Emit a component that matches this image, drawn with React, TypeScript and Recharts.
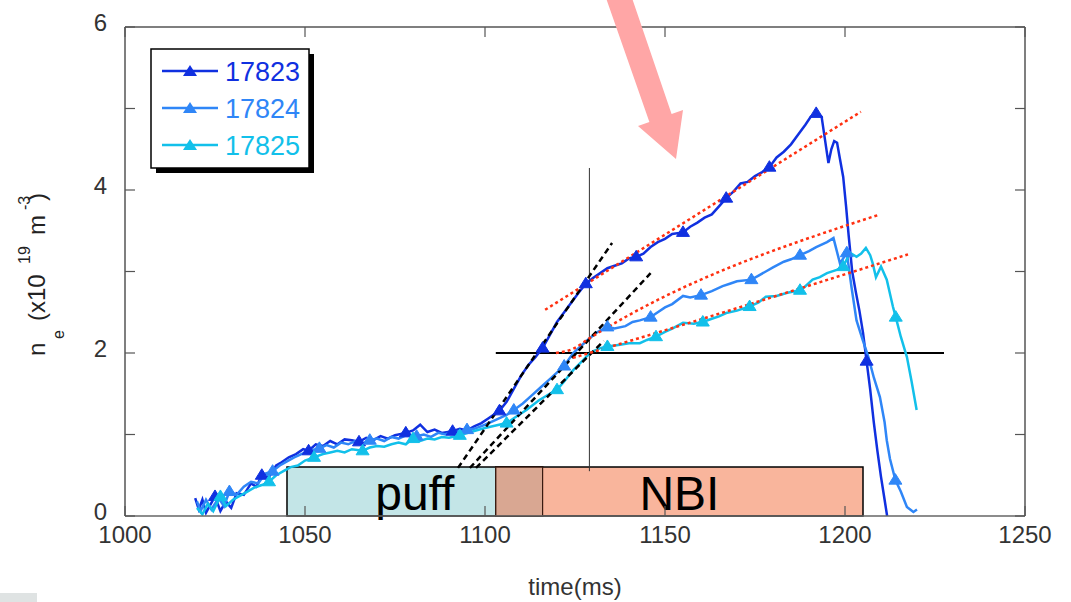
import React from 'react';
import { LineChart, Line, XAxis, YAxis, ReferenceArea, ReferenceLine } from 'recharts';

const xTicks = [1000, 1050, 1100, 1150, 1200, 1250];
const yTicks = [0, 1, 2, 3, 4, 5, 6];
const yLabeled = [0, 2, 4, 6];

const shotNames = ['17823', '17824', '17825'];
const shotColors = ['#1030e0', '#2f86f7', '#12c0ea'];

const s17823: [number, number][] = [
  [1019.5,0.22],[1020.5,0.08],[1021.5,0.2],[1022.5,0.04],[1024,0.16],[1025,0.24],[1026.5,0.06],[1028,0.18],[1029.5,0.1],[1031,0.28],[1033,0.26],[1035,0.4],[1036.5,0.36],[1038,0.5],[1040,0.48],[1042,0.62],[1043.5,0.66],[1045.5,0.72],[1047.5,0.76],[1049.5,0.82],[1051,0.8],[1053,0.88],[1055,0.86],[1057,0.92],[1059,0.88],[1061,0.94],[1063,0.93],[1065,0.91],[1067,0.96],[1069,0.93],[1071,0.98],[1073,0.95],[1075,0.99],[1078,1.02],[1080,1.05],[1082,1.12],[1084,1.03],[1086,1.06],[1088,1.02],[1091,1.04],[1093,1.07],[1095,1.05],[1097,1.1],[1099,1.14],[1101,1.2],[1104,1.29],[1106,1.4],[1108,1.56],[1110,1.72],[1112,1.85],[1114,1.95],[1116,2.06],[1118,2.22],[1120,2.38],[1122,2.5],[1124,2.62],[1126,2.74],[1128,2.85],[1130,2.92],[1132,2.98],[1134,3.04],[1136,3.07],[1138,3.1],[1140,3.16],[1142,3.18],[1144,3.22],[1146,3.3],[1148,3.36],[1150,3.4],[1152,3.46],[1155,3.48],[1157,3.55],[1159,3.6],[1161,3.66],[1163,3.7],[1165,3.8],[1167,3.9],[1169,3.98],[1171,4.08],[1173,4.1],[1175,4.17],[1177,4.22],[1179,4.28],[1181,4.4],[1183,4.47],[1185,4.56],[1187,4.68],[1189,4.8],[1190.5,4.9],[1192,4.94],[1193.5,4.9],[1194.5,4.6],[1195.4,4.33],[1196.2,4.5],[1197,4.6],[1197.8,4.58],[1198.6,4.38],[1199.5,4.16],[1200.3,3.8],[1201,3.45],[1202,3.0],[1203,2.75],[1204,2.52],[1205,2.25],[1206,1.9],[1207,1.55],[1208,1.15],[1209,0.8],[1210,0.48],[1211,0.2],[1211.7,0.0]
];
const m17823 = [1025, 1038, 1051, 1065, 1078, 1091, 1104, 1116, 1128, 1142, 1155, 1167, 1179, 1192, 1206];

const s17824: [number, number][] = [
  [1020,0.18],[1021,0.06],[1022.5,0.2],[1024,0.08],[1026,0.22],[1027.5,0.12],[1029,0.3],[1031,0.26],[1033,0.36],[1035,0.42],[1037,0.4],[1039,0.52],[1041,0.55],[1043,0.62],[1045,0.67],[1047,0.72],[1049,0.76],[1051,0.8],[1054,0.83],[1056,0.87],[1058,0.84],[1060,0.9],[1062,0.88],[1064,0.92],[1066,0.89],[1068,0.93],[1070,0.95],[1072,0.92],[1074,0.97],[1076,0.95],[1078,0.99],[1081,0.98],[1083,1.0],[1085,0.97],[1087,1.02],[1089,1.0],[1091,1.04],[1093,1.03],[1095,1.06],[1097,1.07],[1100,1.12],[1103,1.18],[1106,1.24],[1108,1.3],[1110.5,1.38],[1113,1.48],[1115.5,1.58],[1118,1.68],[1122,1.84],[1124.5,2.0],[1126.5,2.08],[1128.5,2.16],[1131,2.25],[1134,2.32],[1136,2.3],[1139,2.33],[1141,2.38],[1143,2.4],[1146,2.44],[1148,2.5],[1150,2.56],[1152,2.6],[1155,2.7],[1157,2.68],[1160,2.71],[1163,2.76],[1166,2.82],[1168,2.85],[1170,2.88],[1174,2.9],[1176,2.95],[1178,3.0],[1180,3.05],[1183,3.12],[1185,3.15],[1187.5,3.2],[1190,3.25],[1192,3.3],[1195,3.36],[1196.8,3.41],[1198.6,3.1],[1200.5,3.23],[1201.8,2.81],[1203.2,2.4],[1205,2.15],[1206.5,1.95],[1208,1.7],[1209.7,1.46],[1211,1.15],[1211.6,0.93],[1212.5,0.7],[1214,0.44],[1215.5,0.3],[1217.2,0.11],[1219,0.05],[1220,0.08]
];
const m17824 = [1029, 1041, 1054, 1068, 1081, 1095, 1108, 1122, 1134, 1146, 1160, 1174, 1187.5, 1200.5, 1214];

const s17825: [number, number][] = [
  [1020,0.1],[1021.5,0.02],[1023,0.15],[1024.5,0.06],[1026.5,0.24],[1028,0.12],[1030,0.2],[1032,0.25],[1034,0.3],[1036,0.35],[1038,0.38],[1040,0.42],[1042,0.5],[1044,0.55],[1046,0.6],[1048,0.62],[1050,0.68],[1052.5,0.72],[1055,0.76],[1057,0.78],[1059,0.8],[1061,0.78],[1063,0.82],[1066,0.8],[1068,0.84],[1070,0.86],[1072,0.85],[1074,0.88],[1076,0.9],[1078,0.88],[1080,0.95],[1082,0.92],[1084,0.95],[1086,0.94],[1088,0.97],[1090,0.96],[1093,0.99],[1096,1.03],[1100,1.08],[1103,1.11],[1106,1.14],[1108,1.2],[1111.5,1.3],[1115,1.42],[1118,1.5],[1120,1.55],[1122,1.65],[1124.5,1.79],[1126.5,1.88],[1128.5,1.97],[1130,2.02],[1132,2.06],[1134,2.08],[1137.5,2.1],[1140,2.12],[1143,2.12],[1145,2.16],[1147.5,2.2],[1150,2.26],[1152,2.3],[1155,2.37],[1158,2.36],[1160.5,2.38],[1163,2.42],[1165,2.45],[1167,2.49],[1170,2.52],[1173.5,2.57],[1176,2.62],[1178,2.69],[1181,2.7],[1184,2.74],[1187.5,2.77],[1189,2.82],[1191,2.9],[1193,2.93],[1195,2.98],[1197.7,3.02],[1199.5,3.06],[1201.4,3.23],[1203.2,3.18],[1204.5,3.22],[1205.8,3.29],[1207,3.2],[1207.7,3.1],[1208.6,2.93],[1210,3.06],[1211.6,2.9],[1213.3,2.57],[1214.1,2.44],[1215.5,2.2],[1217.2,1.95],[1218.5,1.65],[1219.9,1.3]
];
const m17825 = [1026.5, 1040, 1052.5, 1066, 1080, 1093, 1106, 1120, 1134, 1147.5, 1160.5, 1173.5, 1187.5, 1199.5, 1214.1];

// tangent (black dashed) lines at the start of the fast rise
const tan17823: [number, number][] = [[1092.5, 0.59], [1135.3, 3.35]];
const tan17824: [number, number][] = [[1095.8, 0.59], [1146, 2.98]];
const tan17825: [number, number][] = [[1097.5, 0.59], [1133, 2.15]];
// linear fits (red dotted) during NBI
const fit17823: [number, number][] = [[1116.7, 2.53], [1204.4, 4.96]];
const fit17824: [number, number][] = [[1119.7, 2.0], [1124.4, 2.05], [1129, 2.18], [1209, 3.69]];
const fit17825: [number, number][] = [[1124.4, 1.94], [1129, 2.0], [1217.5, 3.21]];

// heating phases
const puffRange = [1045, 1116];
const nbiRange = [1103, 1205];
const phaseTop = 0.6;
// reference cross
const crossT = 1129;
const crossN = 2;
const crossV = [0.55, 4.27];
const crossH = [1103, 1227.5];

const FONT = '"Liberation Sans", Arial, Helvetica, sans-serif';

const toData = (arr: [number, number][], marks: number[] = []) =>
  arr.map(([t, v]) => ({ t, v, m: marks.includes(t) }));

const triDot = (color: string) => (props: any) => {
  const { cx, cy, payload, index } = props;
  if (!payload || !payload.m || cx == null || cy == null) return <g key={`d${index}`} />;
  return (
    <polygon
      key={`d${index}`}
      points={`${cx - 6.5},${cy + 4} ${cx + 6.5},${cy + 4} ${cx},${cy - 6.5}`}
      fill={color}
      stroke={color}
      strokeWidth={1}
    />
  );
};

const XTickBottom = (p: any) => {
  const { x, y, payload } = p;
  return (
    <g>
      <line x1={x} y1={y} x2={x} y2={y - 10} stroke="#555" strokeWidth={1.2} />
      <text x={x} y={y + 27} textAnchor="middle" fontSize={24} fill="#333" fontFamily={FONT}>
        {payload.value}
      </text>
    </g>
  );
};
const XTickTop = (p: any) => {
  const { x, y } = p;
  return <line x1={x} y1={y} x2={x} y2={y + 10} stroke="#555" strokeWidth={1.2} />;
};
const YTickLeft = (p: any) => {
  const { x, y, payload } = p;
  return (
    <g>
      <line x1={x} y1={y} x2={x + 10} y2={y} stroke="#555" strokeWidth={1.2} />
      {yLabeled.includes(payload.value) ? (
        <text x={x - 18} y={y + 4} textAnchor="end" fontSize={24} fill="#333" fontFamily={FONT}>
          {payload.value}
        </text>
      ) : null}
    </g>
  );
};
const YTickRight = (p: any) => {
  const { x, y } = p;
  return <line x1={x} y1={y} x2={x - 10} y2={y} stroke="#555" strokeWidth={1.2} />;
};

const BoxLabel = (props: any) => {
  const { viewBox, text } = props;
  if (!viewBox) return null;
  const { x, y, width, height } = viewBox;
  return (
    <text x={x + width / 2} y={y + height - 6} textAnchor="middle" fontSize={48} fill="#000" fontFamily={FONT}>
      {text}
    </text>
  );
};

const series = [
  { name: shotNames[0], color: shotColors[0], data: toData(s17823, m17823) },
  { name: shotNames[1], color: shotColors[1], data: toData(s17824, m17824) },
  { name: shotNames[2], color: shotColors[2], data: toData(s17825, m17825) },
];
const tangents = [tan17823, tan17824, tan17825].map((a) => toData(a));
const fits = [fit17823, fit17824, fit17825].map((a) => toData(a));

export default function App() {
  return (
    <div style={{ position: 'absolute', left: 0, top: 0, width: 1071, height: 602, background: '#fff', fontFamily: FONT }}>
      <LineChart width={1071} height={602} margin={{ top: 0, right: 0, bottom: 0, left: 0 }}>
        <XAxis
          xAxisId={0}
          dataKey="t"
          type="number"
          domain={[1000, 1250]}
          ticks={xTicks}
          allowDataOverflow
          height={86}
          tickSize={0}
          tickMargin={0}
          tickLine={false}
          axisLine={{ stroke: '#666', strokeWidth: 1.5 }}
          tick={<XTickBottom />}
          interval={0}
        />
        <XAxis
          xAxisId="top"
          orientation="top"
          dataKey="t"
          type="number"
          domain={[1000, 1250]}
          ticks={xTicks}
          allowDataOverflow
          height={27}
          tickSize={0}
          tickMargin={0}
          tickLine={false}
          axisLine={{ stroke: '#555', strokeWidth: 1.5 }}
          tick={<XTickTop />}
          interval={0}
        />
        <YAxis
          yAxisId={0}
          type="number"
          domain={[0, 6]}
          ticks={yTicks}
          allowDataOverflow
          width={125}
          tickSize={0}
          tickMargin={0}
          tickLine={false}
          axisLine={{ stroke: '#555', strokeWidth: 1.5 }}
          tick={<YTickLeft />}
          interval={0}
        />
        <YAxis
          yAxisId="r"
          orientation="right"
          type="number"
          domain={[0, 6]}
          ticks={yTicks}
          allowDataOverflow
          width={46}
          tickSize={0}
          tickMargin={0}
          tickLine={false}
          axisLine={{ stroke: '#555', strokeWidth: 1.5 }}
          tick={<YTickRight />}
          interval={0}
        />

        <ReferenceArea
          x1={puffRange[0]}
          x2={puffRange[1]}
          y1={0}
          y2={phaseTop}
          fill="#c3e5e7"
          fillOpacity={1}
          stroke="#000"
          strokeWidth={1.5}
          label={<BoxLabel text="puff" />}
        />
        <ReferenceArea
          x1={nbiRange[0]}
          x2={nbiRange[1]}
          y1={0}
          y2={phaseTop}
          fill="#f9b59c"
          fillOpacity={1}
          stroke="#000"
          strokeWidth={1.5}
          label={<BoxLabel text="NBI" />}
        />
        <ReferenceArea
          x1={nbiRange[0]}
          x2={puffRange[1]}
          y1={0}
          y2={phaseTop}
          fill="#d9a792"
          fillOpacity={1}
          stroke="#3a1a10"
          strokeWidth={1.2}
        />

        <ReferenceLine
          segment={[{ x: crossT, y: crossV[0] }, { x: crossT, y: crossV[1] }]}
          stroke="#333"
          strokeWidth={1}
        />
        <ReferenceLine
          segment={[{ x: crossH[0], y: crossN }, { x: crossH[1], y: crossN }]}
          stroke="#000"
          strokeWidth={2}
        />

        {series.map((s) => (
          <Line
            key={s.name}
            data={s.data}
            dataKey="v"
            type="linear"
            stroke={s.color}
            strokeWidth={2.5}
            dot={triDot(s.color)}
            activeDot={false}
            isAnimationActive={false}
          />
        ))}
        {tangents.map((d, i) => (
          <Line
            key={`tan${i}`}
            data={d}
            dataKey="v"
            type="linear"
            stroke="#000"
            strokeWidth={2.5}
            strokeDasharray="6 4"
            dot={false}
            activeDot={false}
            isAnimationActive={false}
          />
        ))}
        {fits.map((d, i) => (
          <Line
            key={`fit${i}`}
            data={d}
            dataKey="v"
            type="monotone"
            stroke="#ff3010"
            strokeWidth={2.5}
            strokeDasharray="3 3"
            dot={false}
            activeDot={false}
            isAnimationActive={false}
          />
        ))}
      </LineChart>

      <svg width={1071} height={602} style={{ position: 'absolute', left: 0, top: 0, pointerEvents: 'none' }}>
        {/* legend */}
        <rect x={156} y={54} width={158} height={119} fill="#000" />
        <rect x={151} y={49} width={158} height={119} fill="#fff" stroke="#000" strokeWidth={1.5} />
        {series.map((s, i) => {
          const ly = 71 + i * 37;
          return (
            <g key={s.name}>
              <line x1={162} y1={ly} x2={218} y2={ly} stroke={s.color} strokeWidth={2.5} />
              <polygon points={`${190 - 7},${ly + 5} ${190 + 7},${ly + 5} ${190},${ly - 6}`} fill={s.color} />
              <text x={225} y={ly + 10} fontSize={27} fill={s.color} fontFamily={FONT}>
                {s.name}
              </text>
            </g>
          );
        })}

        {/* axis titles */}
        <text x={575} y={595} textAnchor="middle" fontSize={24} fill="#333" fontFamily={FONT}>
          time(ms)
        </text>
        <text transform="translate(45,356) rotate(-90)" fontSize={24} fill="#222" fontFamily={FONT}>
          <tspan x={0} y={0}>n</tspan>
          <tspan x={17} y={19} fontSize={16}>e</tspan>
          <tspan x={35} y={0}>(x10</tspan>
          <tspan x={92} y={-15} fontSize={16}>19</tspan>
          <tspan x={121} y={0}>m</tspan>
          <tspan x={146} y={-15} fontSize={16}>-3</tspan>
          <tspan x={155} y={0}>)</tspan>
        </text>

        {/* highlight arrow */}
        <polygon
          points="606,-2 632,-2 671.6,114.1 683,110 676,159 638,126 649.4,121.9"
          fill="#ffa6a6"
        />
        <rect x={0} y={593} width={37} height={9} fill="#dfe3e3" />
      </svg>
    </div>
  );
}
